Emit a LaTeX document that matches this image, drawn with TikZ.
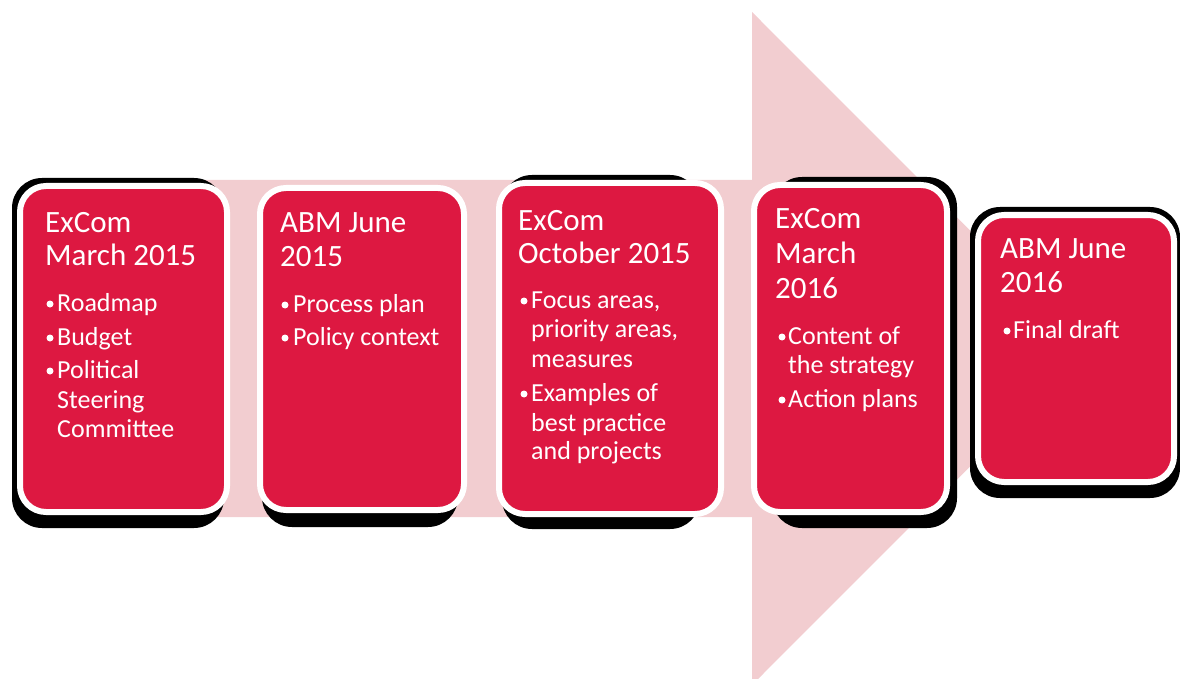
\documentclass[tikz,border=0pt]{standalone}
\usepackage{fontspec}
\setmainfont{Carlito}
\definecolor{arrowpink}{RGB}{242,205,208}
\definecolor{stagered}{RGB}{221,24,65}
\tikzset{
  stagebox/.style={draw=white, fill=stagered, line width=6pt, rounded corners=26pt, inner sep=0pt, shape=rectangle},
  boxshadow/.style={fill=black, rounded corners=30pt},
  ttl/.style={anchor=base west, text=white, inner sep=0pt, font=\fontsize{31}{36}\selectfont},
  itm/.style={anchor=base west, text=white, inner sep=0pt, font=\fontsize{26}{30}\selectfont},
  bulletdot/.style={circle, fill=white, inner sep=0pt, minimum size=7pt},
}
% name, box x1 y1 x2 y2, shadow x1 y1 x2 y2
\newcommand\mkstage[9]{%
  \fill[boxshadow] (#6,#7) rectangle (#8,#9);
  \node[stagebox, minimum width={#4-#2-6}, minimum height={#5-#3-6}] (#1) at ({(#2+#4)/2},{(#3+#5)/2}) {};
}
\begin{document}
\begin{tikzpicture}[x=1pt, y=-1pt]
\useasboundingbox (0,0) rectangle (1180,679);
\clip (0,0) rectangle (1180,679);
% big background arrow
\fill[arrowpink] (40,180) -- (752,180) -- (752,12) -- (1088,348.5) -- (752,685) -- (752,517) -- (40,517) -- cycle;
% stages
\mkstage{s1}{17}{183}{230}{515}{12}{178}{224}{528}
\mkstage{s2}{257}{185}{467}{513}{262}{190}{458}{527}
\mkstage{s3}{496}{180}{724}{517}{502}{175}{700}{529}
\mkstage{s4}{751}{182}{950}{515}{772}{177}{957}{528}
\mkstage{s5}{975}{212}{1177}{485}{970}{207}{1180}{498}
% Box 1
\node[ttl] (t1a) at (45,232) {ExCom};
\node[ttl] (t1b) at (45,265) {March 2015};
\node[bulletdot] (d1a) at (50,304) {};
\node[itm] (i1a) at (57,311) {Roadmap};
\node[bulletdot] (d1b) at (50,338) {};
\node[itm] (i1b) at (57,345) {Budget};
\node[bulletdot] (d1c) at (50,371) {};
\node[itm] (i1c) at (57,378) {Political};
\node[itm] (i1d) at (57,408) {Steering};
\node[itm] (i1e) at (57,437) {Committee};
% Box 2
\node[ttl] (t2a) at (280,232) {ABM June};
\node[ttl] (t2b) at (280,266) {2015};
\node[bulletdot] (d2a) at (285,305) {};
\node[itm] (i2a) at (293,312) {Process plan};
\node[bulletdot] (d2b) at (285,338) {};
\node[itm] (i2b) at (293,345) {Policy context};
% Box 3
\node[ttl] (t3a) at (518,230) {ExCom};
\node[ttl] (t3b) at (518,263) {October 2015};
\node[bulletdot] (d3a) at (524,301) {};
\node[itm] (i3a) at (531,308) {Focus areas,};
\node[itm] (i3b) at (531,337) {priority areas,};
\node[itm] (i3c) at (531,367) {measures};
\node[bulletdot] (d3b) at (524,394) {};
\node[itm] (i3d) at (531,401) {Examples of};
\node[itm] (i3e) at (531,431) {best practice};
\node[itm] (i3f) at (531,459) {and projects};
% Box 4
\node[ttl] (t4a) at (775,229) {ExCom};
\node[ttl] (t4b) at (775,263) {March};
\node[ttl] (t4c) at (775,298) {2016};
\node[bulletdot] (d4a) at (782,337) {};
\node[itm] (i4a) at (788,344) {Content of};
\node[itm] (i4b) at (788,373) {the strategy};
\node[bulletdot] (d4b) at (782,400) {};
\node[itm] (i4c) at (788,407) {Action plans};
% Box 5
\node[ttl] (t5a) at (1000,258) {ABM June};
\node[ttl] (t5b) at (1000,292) {2016};
\node[bulletdot] (d5a) at (1007,331) {};
\node[itm] (i5a) at (1013,338) {Final draft};
\end{tikzpicture}
\end{document}
